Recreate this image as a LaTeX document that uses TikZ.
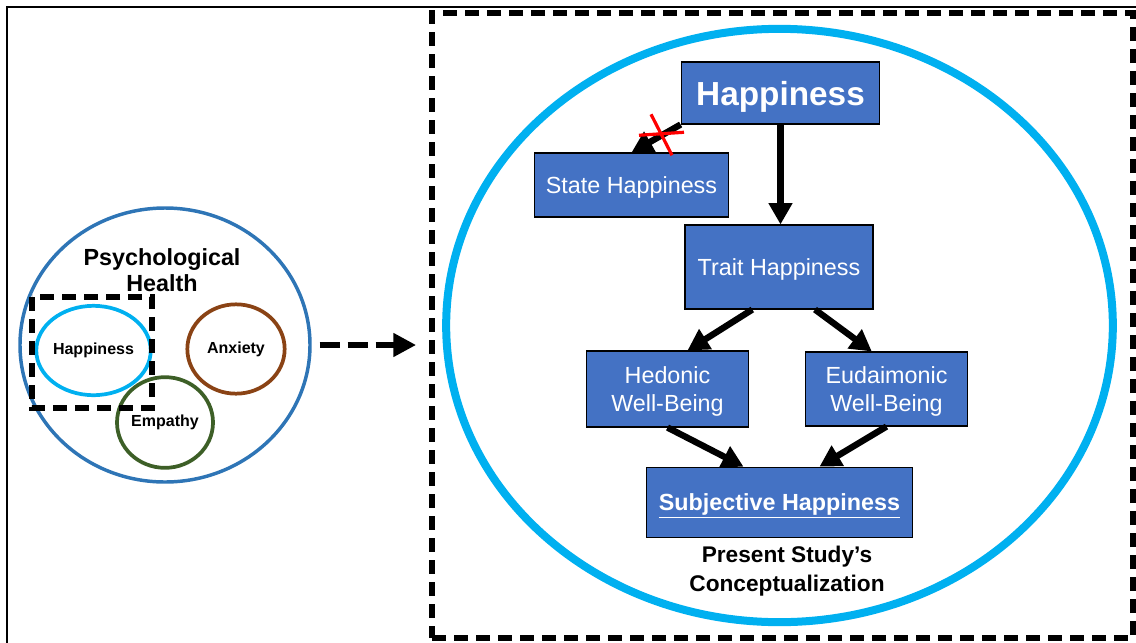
\documentclass[tikz,border=0pt]{standalone}
\usepackage{fontspec}
\setmainfont{Liberation Sans}
\usetikzlibrary{shapes.geometric,arrows.meta}
\definecolor{boxblue}{HTML}{4472C4}
\definecolor{skyblue}{HTML}{00B0F0}
\definecolor{phblue}{HTML}{2E75B6}
\definecolor{anxbrown}{HTML}{8A4315}
\definecolor{empgreen}{HTML}{3D5F27}
\begin{document}
\begin{tikzpicture}[x=0.75pt,y=-0.75pt,
  box/.style={draw=black,line width=0.8pt,fill=boxblue,text=white,align=center,inner sep=0pt,
    text depth=0pt,font=\fontsize{17.5}{21}\selectfont},
  link/.style={line width=4.8pt,-{Triangle[length=16pt,width=17pt]}},
  ring/.style={ellipse,draw,line width=2.8pt,inner sep=0pt,minimum width=73pt,minimum height=67pt,
    font=\bfseries\fontsize{12}{14}\selectfont},
  heavydash/.style={line width=3.9pt,dash pattern=on 10.5pt off 6pt}]
\useasboundingbox (0,0) rectangle (1136,643);
%\draw[very thin, gray] (0,0) grid[step=50] (1136,643);
\draw[line width=1.5pt] (7,643)--(7,7)--(1136,7);
% left: psychological health
\node[ellipse,draw=phblue,line width=2.6pt,minimum width=217.5pt,minimum height=205.5pt] (phealth) at (165,345) {};
\node[font=\bfseries\fontsize{17.5}{19.5}\selectfont,align=center] (phlabel) at (162,270) {Psychological\\Health};
\node[ring,draw=skyblue] (happysmall) at (93.5,350.5) {Happiness};
\node[ring,draw=anxbrown] (anxiety) at (236,349) {Anxiety};
\node[ring,draw=empgreen,minimum width=72pt,minimum height=68pt] (empathy) at (165,422.5) {Empathy};
\draw[heavydash] (32,297) rectangle (152,408);
% right: present study
\node[draw,heavydash,minimum width=525.75pt,minimum height=468.75pt] (frame) at (782.5,325.5) {};
\node[ellipse,draw=skyblue,line width=6pt,minimum width=500pt,minimum height=445pt] (studyring) at (779.5,325.5) {};
\draw[line width=4pt,dash pattern=on 15pt off 6pt,-{Triangle[length=17pt,width=17pt]}]
  ([xshift=6pt]phealth.east) -- ([xshift=-10pt]frame.west |- phealth.east);
\node[box,minimum width=149pt,minimum height=46.5pt,font=\bfseries\fontsize{25}{30}\selectfont] (happy) at (780.5,93) {Happiness};
\node[box,minimum width=146pt,minimum height=48pt] (state) at (631.5,185) {State Happiness};
\node[box,minimum width=141pt,minimum height=63pt] (trait) at (779,267) {Trait Happiness};
\node[box,minimum width=121pt,minimum height=57pt] (hedonic) at (667.5,389) {Hedonic\\Well-Being};
\node[box,minimum width=121pt,minimum height=55.5pt] (eudaim) at (886.5,389) {Eudaimonic\\Well-Being};
\node[box,minimum width=199pt,minimum height=53pt,font=\bfseries\fontsize{17.5}{21}\selectfont] (subj) at (779.5,502.5) {\underline{Subjective Happiness}};
\node[font=\bfseries\fontsize{17}{21.75}\selectfont,align=center] (caption) at (787,571) {Present Study’s\\Conceptualization};
\draw[link] (happy.south west) -- (state.north) coordinate[pos=0.42] (cut);
\draw[red,line width=2.4pt] (cut) +(-9,-22) -- +(12,19) (cut) +(-21,-1) -- +(24,-4);
\draw[link] (happy.south) -- (happy.south |- trait.north);
\draw[link] ([xshift=-20pt]trait.south) -- ([xshift=15pt]hedonic.north);
\draw[link] ([xshift=27pt]trait.south) -- ([xshift=-11pt]eudaim.north);
\draw[link] (hedonic.south) -- ([xshift=-27pt]subj.north);
\draw[link] (eudaim.south) -- ([xshift=30pt]subj.north);
\end{tikzpicture}
\end{document}
